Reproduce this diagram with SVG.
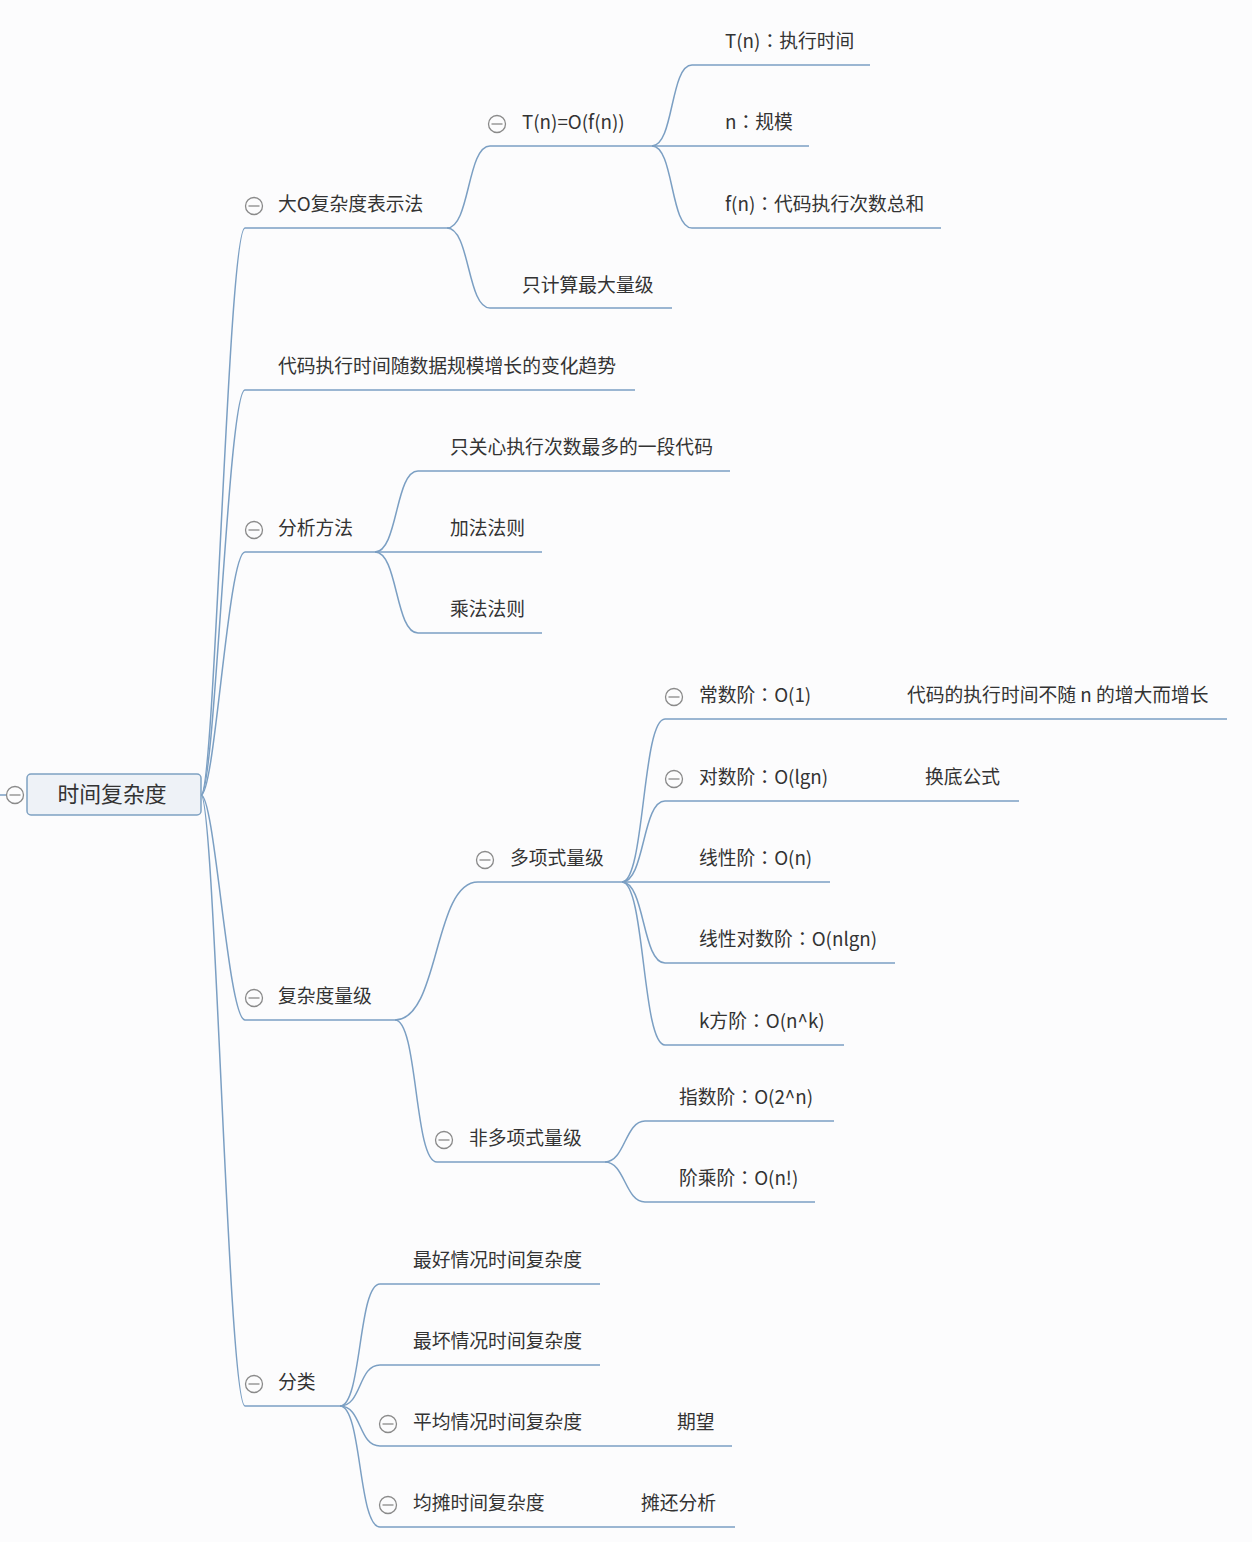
<svg xmlns="http://www.w3.org/2000/svg" width="1252" height="1542" viewBox="0 0 1252 1542">
<style>
.bg{fill:#fcfcfd}
.c{fill:none;stroke:#7b9fc3;stroke-width:1.5}
.u{fill:none;stroke:#7b9fc3;stroke-width:1.5}
.t{font-family:"Noto Sans CJK SC","Noto Sans",sans-serif;font-size:18.8px;fill:#333333}
.k{font-family:"Noto Sans CJK TC","Noto Sans CJK SC",sans-serif}
.rt{font-family:"Noto Sans CJK SC","Noto Sans",sans-serif;font-size:21.8px;fill:#333333}
.tg{fill:#fcfcfd;stroke:#8a8a8a;stroke-width:1.3}
.tl{stroke:#8a8a8a;stroke-width:1.3}
</style>
<defs>
<g id="tog"><circle class="tg" cx="0" cy="0" r="8.5"/><line class="tl" x1="-5.5" y1="0" x2="5.5" y2="0"/></g>
</defs>
<rect class="bg" x="0" y="0" width="1252" height="1542"/>
<g id="connectors">
<path class="c" d="M201,795 C215,795 228,228 245,228"/>
<path class="c" d="M201,795 C215,795 228,390 245,390"/>
<path class="c" d="M201,795 C215,795 228,552 245,552"/>
<path class="c" d="M201,795 C215,795 228,1020 245,1020"/>
<path class="c" d="M201,795 C215,795 228,1406 245,1406"/>
<path class="c" d="M447,228 C470,228 467,146 490,146"/>
<path class="c" d="M447,228 C470,228 467,308 490,308"/>
<path class="c" d="M652,146 C674,146 670,65 692,65"/>
<path class="c" d="M652,146 L692,146"/>
<path class="c" d="M652,146 C674,146 670,228 692,228"/>
<path class="c" d="M375,552 C398,552 395,471 418,471"/>
<path class="c" d="M375,552 L418,552"/>
<path class="c" d="M375,552 C398,552 395,633 418,633"/>
<path class="c" d="M395,1020 C440,1020 433,882 478,882"/>
<path class="c" d="M395,1020 C418,1020 414,1162 437,1162"/>
<path class="c" d="M622,882 C645,882 642,719 665,719"/>
<path class="c" d="M622,882 C645,882 642,801 665,801"/>
<path class="c" d="M622,882 L665,882"/>
<path class="c" d="M622,882 C645,882 642,963 665,963"/>
<path class="c" d="M622,882 C645,882 642,1045 665,1045"/>
<path class="c" d="M605,1162 C625,1162 625,1121 645,1121"/>
<path class="c" d="M605,1162 C625,1162 625,1202 645,1202"/>
<path class="c" d="M340,1406 C362,1406 358,1284 380,1284"/>
<path class="c" d="M340,1406 C362,1406 358,1365 380,1365"/>
<path class="c" d="M340,1406 C362,1406 358,1446 380,1446"/>
<path class="c" d="M340,1406 C362,1406 358,1527 380,1527"/>
</g>
<g id="root">
<line class="u" x1="0" y1="795" x2="6" y2="795"/>
<use href="#tog" x="15" y="795"/>
<rect x="27" y="774" width="174" height="41" rx="4" fill="#eef2f7" stroke="#7ea1c2" stroke-width="1.5"/>
<text class="rt" x="112" y="802" text-anchor="middle">时间复杂度</text>
</g>
<g id="n1"><line class="u" x1="245" y1="228" x2="447" y2="228"/><use href="#tog" x="254" y="206"/><text class="t" x="278" y="211">大O复杂度表示法</text></g>
<g id="n11"><line class="u" x1="490" y1="146" x2="652" y2="146"/><use href="#tog" x="497" y="124"/><text class="t" x="522" y="129">T(n)=O(f(n))</text></g>
<g id="n111"><line class="u" x1="692" y1="65" x2="870" y2="65"/><text class="t" x="725" y="48">T(n)<tspan class="k">：</tspan>执行时间</text></g>
<g id="n112"><line class="u" x1="692" y1="146" x2="809" y2="146"/><text class="t" x="725" y="129">n<tspan class="k">：</tspan>规模</text></g>
<g id="n113"><line class="u" x1="692" y1="228" x2="941" y2="228"/><text class="t" x="725" y="211">f(n)<tspan class="k">：</tspan>代码执行次数总和</text></g>
<g id="n12"><line class="u" x1="490" y1="308" x2="672" y2="308"/><text class="t" x="522" y="292">只计算最大量级</text></g>
<g id="n2"><line class="u" x1="245" y1="390" x2="635" y2="390"/><text class="t" x="278" y="373">代码执行时间随数据规模增长的变化趋势</text></g>
<g id="n3"><line class="u" x1="245" y1="552" x2="375" y2="552"/><use href="#tog" x="254" y="530"/><text class="t" x="278" y="535">分析方法</text></g>
<g id="n31"><line class="u" x1="418" y1="471" x2="730" y2="471"/><text class="t" x="450" y="454">只关心执行次数最多的一段代码</text></g>
<g id="n32"><line class="u" x1="418" y1="552" x2="542" y2="552"/><text class="t" x="450" y="535">加法法则</text></g>
<g id="n33"><line class="u" x1="418" y1="633" x2="542" y2="633"/><text class="t" x="450" y="616">乘法法则</text></g>
<g id="n4"><line class="u" x1="245" y1="1020" x2="395" y2="1020"/><use href="#tog" x="254" y="998"/><text class="t" x="278" y="1003">复杂度量级</text></g>
<g id="n41"><line class="u" x1="478" y1="882" x2="622" y2="882"/><use href="#tog" x="485" y="860"/><text class="t" x="510" y="865">多项式量级</text></g>
<g id="n411"><line class="u" x1="665" y1="719" x2="880" y2="719"/><use href="#tog" x="674" y="697"/><text class="t" x="699" y="702">常数阶<tspan class="k">：</tspan>O(1)</text></g>
<g id="n4111"><line class="u" x1="880" y1="719" x2="1227" y2="719"/><text class="t" x="907" y="702">代码的执行时间不随 n 的增大而增长</text></g>
<g id="n412"><line class="u" x1="665" y1="801" x2="900" y2="801"/><use href="#tog" x="674" y="779"/><text class="t" x="699" y="784">对数阶<tspan class="k">：</tspan>O(lgn)</text></g>
<g id="n4121"><line class="u" x1="900" y1="801" x2="1019" y2="801"/><text class="t" x="925" y="784">换底公式</text></g>
<g id="n413"><line class="u" x1="665" y1="882" x2="830" y2="882"/><text class="t" x="699" y="865">线性阶<tspan class="k">：</tspan>O(n)</text></g>
<g id="n414"><line class="u" x1="665" y1="963" x2="895" y2="963"/><text class="t" x="699" y="946">线性对数阶<tspan class="k">：</tspan>O(nlgn)</text></g>
<g id="n415"><line class="u" x1="665" y1="1045" x2="844" y2="1045"/><text class="t" x="699" y="1028">k方阶<tspan class="k">：</tspan>O(n^k)</text></g>
<g id="n42"><line class="u" x1="437" y1="1162" x2="605" y2="1162"/><use href="#tog" x="444" y="1140"/><text class="t" x="469" y="1145">非多项式量级</text></g>
<g id="n421"><line class="u" x1="645" y1="1121" x2="834" y2="1121"/><text class="t" x="679" y="1104">指数阶<tspan class="k">：</tspan>O(2^n)</text></g>
<g id="n422"><line class="u" x1="645" y1="1202" x2="815" y2="1202"/><text class="t" x="679" y="1185">阶乘阶<tspan class="k">：</tspan>O(n!)</text></g>
<g id="n5"><line class="u" x1="245" y1="1406" x2="340" y2="1406"/><use href="#tog" x="254" y="1384"/><text class="t" x="278" y="1389">分类</text></g>
<g id="n51"><line class="u" x1="380" y1="1284" x2="600" y2="1284"/><text class="t" x="413" y="1267">最好情况时间复杂度</text></g>
<g id="n52"><line class="u" x1="380" y1="1365" x2="600" y2="1365"/><text class="t" x="413" y="1348">最坏情况时间复杂度</text></g>
<g id="n53"><line class="u" x1="380" y1="1446" x2="650" y2="1446"/><use href="#tog" x="388" y="1424"/><text class="t" x="413" y="1429">平均情况时间复杂度</text></g>
<g id="n531"><line class="u" x1="650" y1="1446" x2="732" y2="1446"/><text class="t" x="677" y="1429">期望</text></g>
<g id="n54"><line class="u" x1="380" y1="1527" x2="620" y2="1527"/><use href="#tog" x="388" y="1505"/><text class="t" x="413" y="1510">均摊时间复杂度</text></g>
<g id="n541"><line class="u" x1="620" y1="1527" x2="735" y2="1527"/><text class="t" x="641" y="1510">摊还分析</text></g>
</svg>
